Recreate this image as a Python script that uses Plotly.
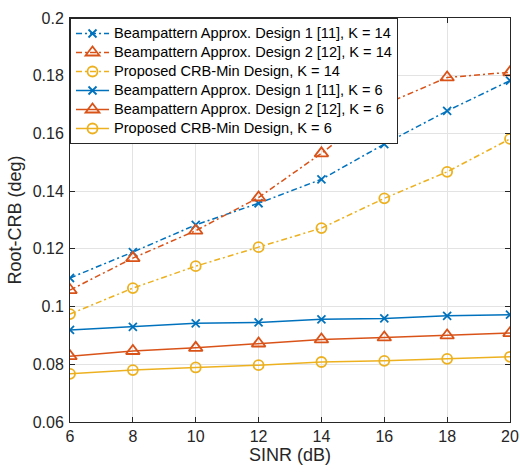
import plotly.graph_objects as go

sinr = [6, 8, 10, 12, 14, 16, 18, 20]

bp1_k14 = [0.1099, 0.1189, 0.1283, 0.1358, 0.1441, 0.1563, 0.1678, 0.1783]
bp2_k14 = [0.1057, 0.1168, 0.1263, 0.1378, 0.1531, 0.1700, 0.1794, 0.1812]
crb_k14 = [0.0974, 0.1064, 0.1140, 0.1206, 0.1272, 0.1375, 0.1467, 0.1581]
bp1_k6 = [0.0919, 0.0930, 0.0942, 0.0945, 0.0956, 0.0959, 0.0968, 0.0972]
bp2_k6 = [0.0828, 0.0846, 0.0857, 0.0872, 0.0886, 0.0893, 0.0900, 0.0908]
crb_k6 = [0.0767, 0.0780, 0.0789, 0.0797, 0.0808, 0.0812, 0.0819, 0.0826]

names = [
    "Beampattern Approx. Design 1 [11], K = 14",
    "Beampattern Approx. Design 2 [12], K = 14",
    "Proposed CRB-Min Design, K = 14",
    "Beampattern Approx. Design 1 [11], K = 6",
    "Beampattern Approx. Design 2 [12], K = 6",
    "Proposed CRB-Min Design, K = 6",
]

y_ticks = [0.06, 0.08, 0.1, 0.12, 0.14, 0.16, 0.18, 0.2]
y_tick_text = ["0.06", "0.08", "0.1", "0.12", "0.14", "0.16", "0.18", "0.2"]

BLUE = "#0072BD"
ORANGE = "#D95319"
YELLOW = "#EDB120"
DASHDOT = "6px,3px,2px,3px"

series = [
    (bp1_k14, BLUE, DASHDOT, "x-thin", 8),
    (bp2_k14, ORANGE, DASHDOT, "triangle-up-open", 12),
    (crb_k14, YELLOW, DASHDOT, "circle-open", 10),
    (bp1_k6, BLUE, "solid", "x-thin", 8),
    (bp2_k6, ORANGE, "solid", "triangle-up-open", 12),
    (crb_k6, YELLOW, "solid", "circle-open", 10),
]

fig = go.Figure()
for (vals, col, dash, sym, sz), nm in zip(series, names):
    fig.add_trace(go.Scatter(
        x=sinr, y=vals,
        name='<span style="font-size:14.6px">' + nm + '</span>',
        mode="lines+markers",
        line=dict(color=col, width=1.5, dash=dash),
        marker=dict(symbol=sym, size=sz, color=col,
                    line=dict(color=col, width=1.8)),
    ))

axis_common = dict(
    showline=True, linecolor="#262626", linewidth=1, mirror="ticks",
    ticks="inside", ticklen=5, tickcolor="#262626",
    showgrid=True, gridcolor="#E3E3E3", gridwidth=1,
    zeroline=False, tickfont=dict(size=16, color="#262626"),
    automargin=False,
)

fig.update_layout(
    width=520, height=473,
    margin=dict(l=70, r=10, t=18, b=51),
    paper_bgcolor="white", plot_bgcolor="white",
    font=dict(family="Liberation Sans, Arial, sans-serif", color="#262626"),
    xaxis=dict(range=[6, 20], tickvals=sinr, ticktext=[str(v) for v in sinr],
               title=dict(text="SINR (dB)", font=dict(size=18), standoff=4),
               **axis_common),
    yaxis=dict(range=[0.06, 0.2], tickvals=y_ticks, ticktext=y_tick_text,
               ticklabelstandoff=2,
               title=dict(text="Root-CRB (deg)", font=dict(size=18), standoff=6),
               **axis_common),
    legend=dict(x=0, y=1, xanchor="left", yanchor="top",
                bgcolor="white", bordercolor="#262626", borderwidth=1,
                font=dict(size=12, color="#000000"),
                itemwidth=33, tracegroupgap=0),
    showlegend=True,
)

fig.write_html("out.html")
